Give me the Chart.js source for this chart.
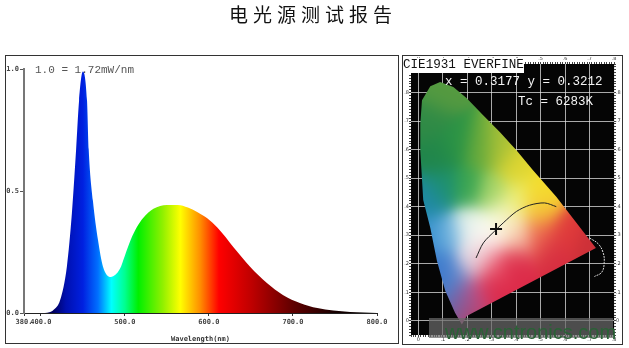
<!DOCTYPE html>
<html>
<head>
<meta charset="utf-8">
<script src="https://cdn.jsdelivr.net/npm/chart.js@4"></script>
<style>
html,body{margin:0;padding:0;background:#fff;width:629px;height:348px;overflow:hidden}
#page{position:absolute;left:0;top:0;width:629px;height:348px;filter:blur(.35px)}
.panel{position:absolute;box-sizing:border-box;border:1px solid #333;background:#fff}
.panel canvas{display:block}
.note{position:absolute;font-family:"Liberation Mono",monospace;white-space:pre;line-height:1}
#title{position:absolute;left:229px;top:0;font:400 19px "Noto Sans CJK SC",sans-serif;letter-spacing:5px;color:#111;white-space:pre}
#band{position:absolute;left:429px;top:318px;width:184px;height:20px;background:rgba(105,105,105,.72)}
#mark{position:absolute;left:445px;top:322px;font:20px "Liberation Sans",sans-serif;color:#2a6236;white-space:pre;line-height:1}
</style>
</head>
<body>
<div id="page">
<div id="title">电光源测试报告</div>
<div class="panel" style="left:5px;top:55px;width:394px;height:289px"><canvas id="spectrum"></canvas></div>
<div class="panel" style="left:402px;top:55px;width:221px;height:290px"><canvas id="cie"></canvas></div>
<div class="note" style="left:35px;top:65px;font-size:11px;color:#555">1.0 = 1.72mW/nm</div>
<div class="note" style="left:403px;top:58px;font-size:12.6px;color:#111;background:#fff;padding:1px 0">CIE1931 EVERFINE</div>
<div class="note" style="left:445px;top:76px;font-size:12.5px;color:#f4f4f4">x = 0.3177 y = 0.3212</div>
<div class="note" style="left:518px;top:96px;font-size:12.5px;color:#f4f4f4">Tc = 6283K</div>
<div id="band"></div>
<div id="mark">www.cntronics.com</div>
</div>
<script>
(function () {
  'use strict';

  // spectrum
  var WAVELENGTH = [380, 400, 410, 415, 423, 431, 437, 442, 445.5, 450, 455, 457, 462, 468, 474, 483.5, 494, 500, 507, 514, 522, 534, 550, 563, 575, 586, 598, 610, 620, 629, 649, 669, 688, 709, 729, 748, 768, 800];
  var INTENSITY = [0, 0, 0.003, 0.012, 0.053, 0.19, 0.41, 0.67, 0.87, 0.99, 0.87, 0.67, 0.46, 0.30, 0.19, 0.148, 0.18, 0.235, 0.30, 0.35, 0.39, 0.427, 0.443, 0.443, 0.432, 0.414, 0.388, 0.35, 0.31, 0.27, 0.19, 0.123, 0.074, 0.04, 0.02, 0.01, 0.004, 0];
  var X_TICKS = [380, 400, 500, 600, 700, 800];
  var X_TICK_LABELS = ['380.', '400.0', '500.0', '600.0', '700.0', '800.0'];
  var Y_TICKS = [0, 0.5, 1];
  var Y_TICK_LABELS = ['0.0', '0.5', '1.0'];
  var BAND_NM = [380, 415, 430, 450, 468, 484, 500, 516, 545, 566, 590, 612, 650, 700, 750, 800];
  var BAND_COLORS = ['#000040', '#000060', '#0010b0', '#0020e0', '#0070ff', '#00ffff', '#00ff90', '#00f000', '#90f000', '#ffff00', '#ff8c00', '#ff0000', '#c00000', '#600000', '#180000', '#000000'];

  // chromaticity diagram
  var LOCUS_X = [0.178, 0.15, 0.11, 0.076, 0.049, 0.02, 0.008, 0.008, 0.015, 0.049, 0.089, 0.143, 0.198, 0.265, 0.333, 0.401, 0.468, 0.564, 0.726, 0.198, 0.178];
  var LOCUS_Y = [-0.013, 0.028, 0.105, 0.21, 0.325, 0.423, 0.598, 0.69, 0.773, 0.822, 0.837, 0.819, 0.78, 0.72, 0.662, 0.598, 0.528, 0.435, 0.255, 0.017, -0.013];
  var PLANCK_X = [0.236, 0.266, 0.313, 0.347, 0.401, 0.455, 0.516, 0.564];
  var PLANCK_Y = [0.22, 0.273, 0.315, 0.343, 0.383, 0.405, 0.413, 0.40];
  var ARC_X = [0.70, 0.735, 0.755, 0.76, 0.75, 0.72];
  var ARC_Y = [0.29, 0.27, 0.24, 0.205, 0.17, 0.155];
  var SAMPLE_X = [0.3177];
  var SAMPLE_Y = [0.3212];
  var ANCHOR_X = [0.09, 0.05, 0.08, 0.15, 0.25, 0.33, 0.40, 0.50, 0.04, 0.10, 0.20, 0.30, 0.40, 0.50, 0.05, 0.12, 0.21, 0.30, 0.25, 0.35, 0.40, 0.50, 0.60, 0.70, 0.08, 0.15, 0.22, 0.30, 0.40, 0.55, 0.17, 0.22, 0.30, 0.20];
  var ANCHOR_Y = [0.80, 0.70, 0.58, 0.62, 0.60, 0.60, 0.54, 0.45, 0.42, 0.47, 0.47, 0.45, 0.42, 0.39, 0.30, 0.30, 0.33, 0.31, 0.25, 0.36, 0.30, 0.30, 0.31, 0.26, 0.20, 0.15, 0.21, 0.20, 0.20, 0.24, 0.05, 0.09, 0.12, 0.02];
  var ANCHOR_COLORS = ['#559a40', '#2f8a46', '#20854a', '#2a9445', '#62a83c', '#acc236', '#e0d630', '#f4e02a', '#1f88a8', '#1c9070', '#38a450', '#a4d468', '#eeee70', '#f5c238', '#3690d0', '#78b8e0', '#eef6ee', '#fdfdf6', '#f8f2f2', '#fafad0', '#f7ccb0', '#ec6450', '#e03a3a', '#cc3038', '#3c78cc', '#4a80cc', '#e8d4e0', '#ea5068', '#dc2a48', '#d62c40', '#4478c8', '#c84a80', '#dc2848', '#d83050'];
  var CIE_MAJOR = [0, 0.1, 0.2, 0.3, 0.4, 0.5, 0.6, 0.7, 0.8];

  function zip(xs, ys) {
    return xs.map(function (x, i) { return {x: x, y: ys[i]}; });
  }

  function rgb(hex) {
    return [parseInt(hex.substr(1, 2), 16), parseInt(hex.substr(3, 2), 16), parseInt(hex.substr(5, 2), 16)];
  }

  function isMajor(value) {
    return CIE_MAJOR.some(function (m) { return Math.abs(m - value) < 0.001; });
  }

  function tenths(value) {
    if (!isMajor(value)) return '';
    return Math.abs(value) < 0.001 ? '0' : value.toFixed(1).slice(1);
  }

  function pin(size, key) {
    return function (scale) { scale[key] = size; };
  }

  function bandFill(context) {
    var chart = context.chart;
    if (!chart.chartArea) return 'transparent';
    var sx = chart.scales.x;
    var left = sx.getPixelForValue(380);
    var right = sx.getPixelForValue(800);
    var grad = chart.ctx.createLinearGradient(left, 0, right, 0);
    BAND_NM.forEach(function (nm, i) { grad.addColorStop((nm - 380) / 420, BAND_COLORS[i]); });
    return grad;
  }

  var gamutPattern = null;
  function gamutFill(context) {
    var chart = context.chart;
    if (!chart.chartArea) return 'transparent';
    if (gamutPattern) return gamutPattern;
    var area = chart.chartArea;
    var off = document.createElement('canvas');
    off.width = chart.width;
    off.height = chart.height;
    var octx = off.getContext('2d');
    var img = octx.createImageData(off.width, off.height);
    var colors = ANCHOR_COLORS.map(rgb);
    for (var py = Math.floor(area.top); py < area.bottom; py++) {
      var v = chart.scales.y.getValueForPixel(py);
      for (var px = Math.floor(area.left); px < area.right; px++) {
        var u = chart.scales.x.getValueForPixel(px);
        var sum = 0, r = 0, g = 0, b = 0;
        for (var i = 0; i < colors.length; i++) {
          var dx = u - ANCHOR_X[i], dy = v - ANCHOR_Y[i];
          var w = Math.exp(-(dx * dx + dy * dy) / 0.0045) + 1e-9;
          sum += w; r += w * colors[i][0]; g += w * colors[i][1]; b += w * colors[i][2];
        }
        var at = (py * off.width + px) * 4;
        img.data[at] = r / sum;
        img.data[at + 1] = g / sum;
        img.data[at + 2] = b / sum;
        img.data[at + 3] = 255;
      }
    }
    octx.putImageData(img, 0, 0);
    gamutPattern = chart.ctx.createPattern(off, 'no-repeat');
    return gamutPattern;
  }

  var blackPlot = {
    id: 'blackPlot',
    beforeDraw: function (chart) {
      var a = chart.chartArea;
      chart.ctx.save();
      chart.ctx.fillStyle = '#050505';
      chart.ctx.fillRect(a.left, a.top, a.right - a.left, a.bottom - a.top);
      chart.ctx.restore();
    }
  };

  var monoTick = {family: '"DejaVu Sans Mono", monospace', size: 7, weight: 'bold'};

  new Chart(document.getElementById('spectrum'), {
    type: 'line',
    data: {datasets: [{
      data: zip(WAVELENGTH, INTENSITY),
      backgroundColor: bandFill,
      borderWidth: 0,
      pointRadius: 0,
      fill: 'origin',
      cubicInterpolationMode: 'monotone'
    }]},
    options: {
      responsive: true,
      maintainAspectRatio: false,
      animation: false,
      layout: {padding: {left: 0, right: 21, top: 13, bottom: 0}},
      plugins: {legend: {display: false}, tooltip: {enabled: false}},
      scales: {
        x: {
          type: 'linear', min: 380, max: 800,
          afterBuildTicks: function (scale) { scale.ticks = X_TICKS.map(function (v) { return {value: v}; }); },
          afterFit: pin(30, 'height'),
          grid: {display: true, drawOnChartArea: false, color: '#333', tickLength: 3},
          border: {color: '#222', width: 1},
          ticks: {
            autoSkip: false, maxRotation: 0, padding: 2, color: '#444', font: monoTick,
            callback: function (v) { return X_TICK_LABELS[X_TICKS.indexOf(v)]; }
          },
          title: {display: true, text: 'Wavelength(nm)', color: '#333', font: monoTick, padding: {top: 4, bottom: 0}}
        },
        y: {
          min: 0, max: 1,
          afterBuildTicks: function (scale) { scale.ticks = Y_TICKS.map(function (v) { return {value: v}; }); },
          afterFit: pin(18, 'width'),
          grid: {display: true, drawOnChartArea: false, color: '#555', tickLength: 4},
          border: {color: '#777', width: 2},
          ticks: {
            padding: 1, color: '#444', font: monoTick,
            callback: function (v) { return Y_TICK_LABELS[Y_TICKS.indexOf(v)]; }
          }
        }
      }
    }
  });

  function cieAxis(position) {
    var horizontal = position === 'top' || position === 'bottom';
    return {
      type: 'linear',
      position: position,
      min: horizontal ? -0.03 : -0.05,
      max: horizontal ? 0.8 : 0.9,
      afterFit: pin(position === 'bottom' ? 9 : 7, horizontal ? 'height' : 'width'),
      grid: {
        drawOnChartArea: position === 'bottom' || position === 'left',
        color: function (c) { return c.tick && isMajor(c.tick.value) ? 'rgba(225,225,225,.75)' : 'rgba(0,0,0,0)'; },
        tickColor: '#444',
        tickLength: 2
      },
      border: {display: false},
      ticks: {stepSize: 0.01, autoSkip: false, maxRotation: 0, padding: 0, color: '#333', font: {family: '"DejaVu Sans", sans-serif', size: 5}, callback: tenths}
    };
  }

  new Chart(document.getElementById('cie'), {
    type: 'scatter',
    plugins: [blackPlot],
    data: {datasets: [
      {
        data: zip(SAMPLE_X, SAMPLE_Y),
        pointStyle: 'cross', pointRadius: 6, pointBorderWidth: 2, pointBorderColor: '#111', showLine: false, order: 0
      },
      {
        data: zip(PLANCK_X, PLANCK_Y),
        showLine: true, borderColor: '#222', borderWidth: 1, pointRadius: 0, fill: false, tension: 0.3, order: 1
      },
      {
        data: zip(ARC_X, ARC_Y),
        showLine: true, borderColor: '#ddd', borderWidth: 1, borderDash: [2, 1], pointRadius: 0, fill: false, tension: 0.4, order: 1
      },
      {
        data: zip(LOCUS_X, LOCUS_Y),
        showLine: true, borderWidth: 0, pointRadius: 0, fill: 'shape', backgroundColor: gamutFill, order: 2
      }
    ]},
    options: {
      responsive: true,
      maintainAspectRatio: false,
      animation: false,
      layout: {padding: 0},
      plugins: {legend: {display: false}, tooltip: {enabled: false}},
      scales: {
        x: cieAxis('bottom'),
        y: cieAxis('left'),
        xTop: cieAxis('top'),
        yRight: cieAxis('right')
      }
    }
  });
}());
</script>
</body>
</html>
